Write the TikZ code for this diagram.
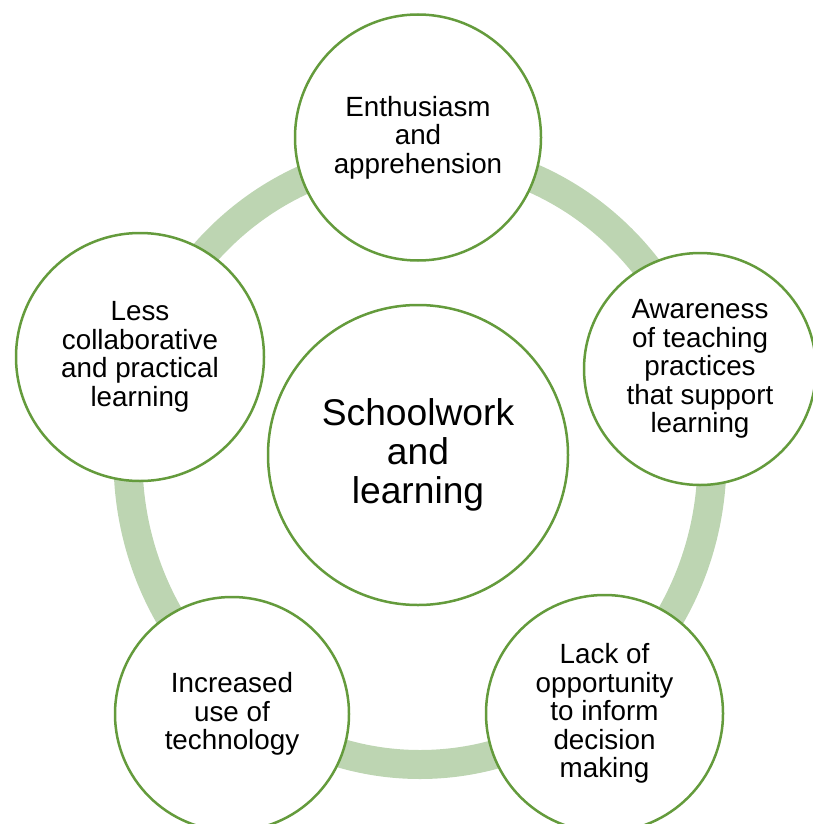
\documentclass[tikz,border=0pt]{standalone}
\usepackage{fontspec}
\setmainfont{Liberation Sans}
\usetikzlibrary{positioning}
\definecolor{bordo}{RGB}{100,155,60}
\definecolor{anello}{RGB}{189,213,178}

\begin{document}
\begin{tikzpicture}[x = 1pt, y = -1pt,
    tema/.style = {circle, draw = bordo, line width = 2.5pt, fill = white, align = center,
        inner sep = 0pt, font = \fontsize{27.8}{28.5}\selectfont},
    centro/.style = {tema, minimum size = 300pt, font = \fontsize{37.2}{39}\selectfont}]
    % Parametri (aiuto)
    \pgfmathsetmacro{\ax}{420}
    \pgfmathsetmacro{\ay}{459.5}
    \pgfmathsetmacro{\rx}{292}
    \pgfmathsetmacro{\ry}{305}
    \useasboundingbox (0,0) rectangle (813,824);
    % Anello
    \draw[anello, line width = 29pt] (\ax,\ay) ellipse [x radius = \rx, y radius = \ry];
    % Cerchio centrale
    \node[centro] (scuola) at (418,455) {Schoolwork\\and\\learning};
    % Cerchi esterni
    \node[tema, minimum size = 246pt] (entusiasmo) at (418,137.5) {Enthusiasm\\and\\apprehension};
    \node[tema, minimum size = 232pt] (pratiche) at (700,369) {Awareness\\of teaching\\practices\\that support\\learning};
    \node[tema, minimum size = 237pt] (decisioni) at (604.5,713.5) {Lack of\\opportunity\\to inform\\decision\\making};
    \node[tema, minimum size = 234pt] (tecnologia) at (232,714) {Increased\\use of\\technology};
    \node[tema, minimum size = 248pt] (pratico) at (140,357) {Less\\collaborative\\and practical\\learning};
\end{tikzpicture}
\end{document}
